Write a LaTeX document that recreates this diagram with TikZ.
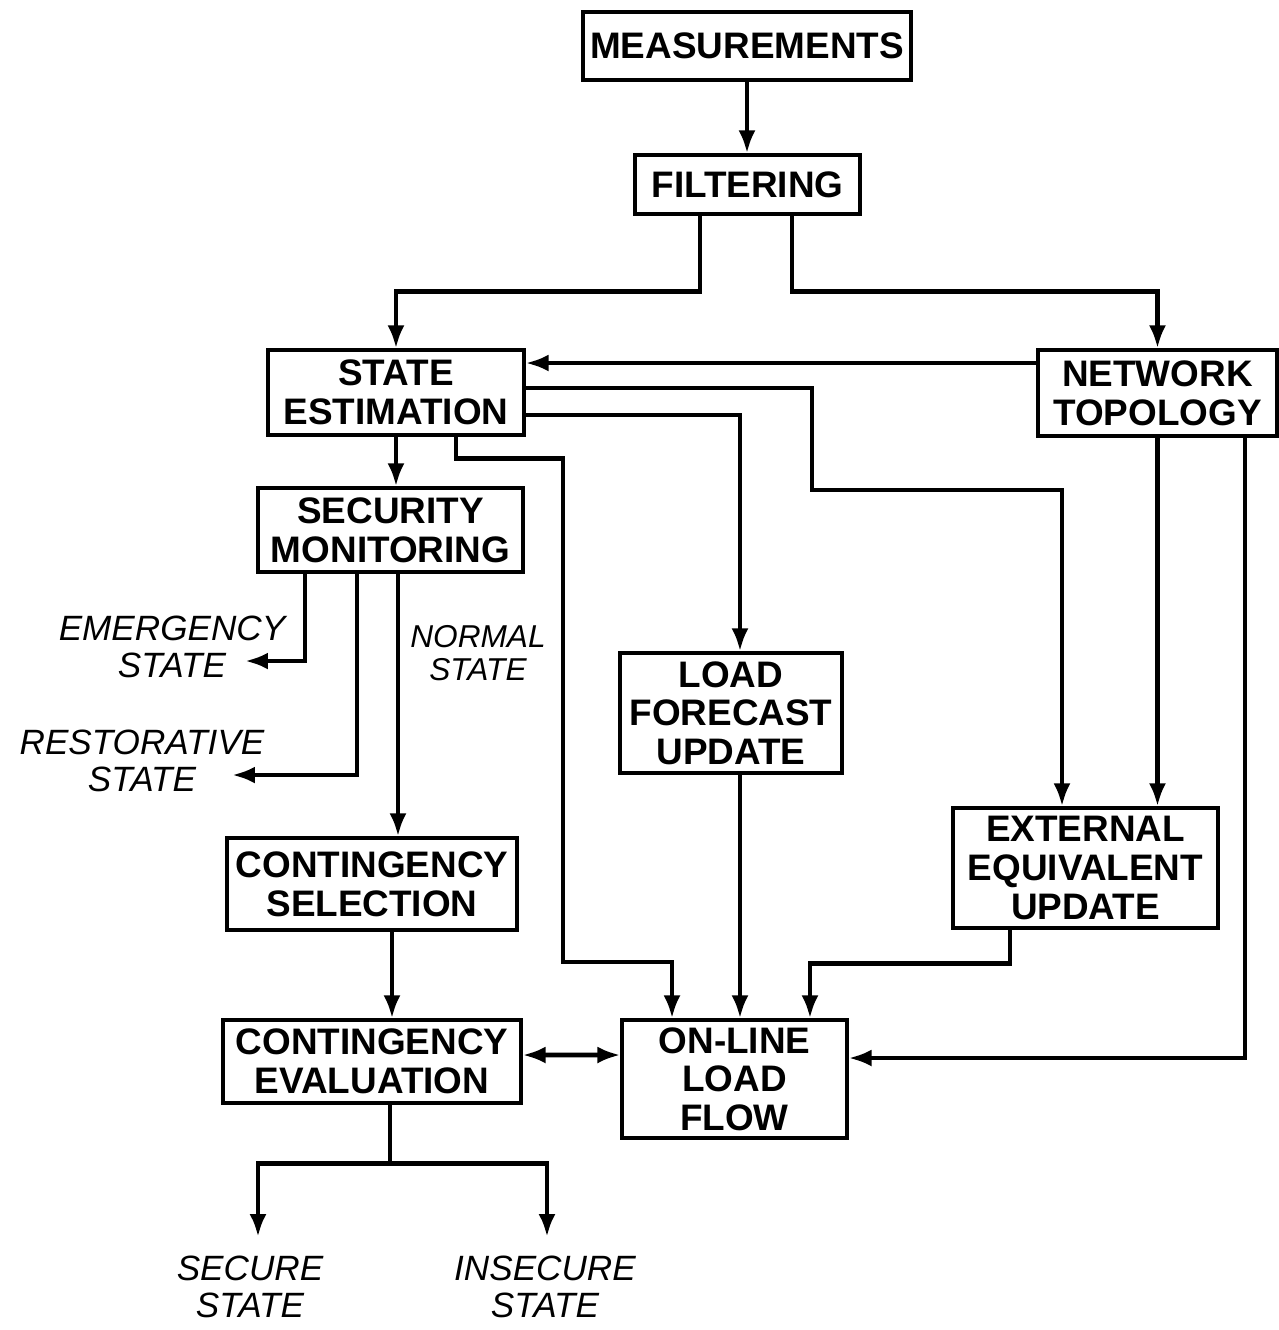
\documentclass[tikz,border=0pt]{standalone}
\usepackage{fontspec}
\setmainfont{Liberation Sans}
\usetikzlibrary{arrows.meta}
\begin{document}
\begin{tikzpicture}[x=0.02cm,y=-0.02cm,
  box/.style={draw,line width=1.8pt,inner sep=0pt,align=center,
    font=\fontsize{21}{22}\selectfont\bfseries},
  lab/.style={align=center,inner sep=0pt,font=\fontsize{20}{21}\selectfont\itshape},
  conn/.style={line width=2.6pt},
  tip/.style={},
  arr/.style={conn,-{Latex[length=0.46cm,width=0.34cm]}},
  arrb/.style={conn,{Latex[length=0.46cm,width=0.34cm]}-{Latex[length=0.46cm,width=0.34cm]}}]
\useasboundingbox (0,0) rectangle (1279,1330);
% boxes
\node[box,minimum width=6.56cm,minimum height=1.36cm] (meas) at (747,46) {MEASUREMENTS};
\node[box,minimum width=4.5cm,minimum height=1.18cm] (filt) at (747.5,184.5) {FILTERING};
\node[box,minimum width=5.12cm,minimum height=1.7cm] (se) at (396,392.5) {STATE\\ESTIMATION};
\node[box,minimum width=4.78cm,minimum height=1.72cm] (nt) at (1157.5,393) {NETWORK\\TOPOLOGY};
\node[box,minimum width=5.3cm,minimum height=1.68cm] (sm) at (390.5,530) {SECURITY\\MONITORING};
\node[box,minimum width=4.44cm,minimum height=2.4cm] (lf) at (731,713) {LOAD\\FORECAST\\UPDATE};
\node[box,minimum width=5.3cm,minimum height=2.4cm] (ee) at (1085.5,868) {EXTERNAL\\EQUIVALENT\\UPDATE};
\node[box,minimum width=5.8cm,minimum height=1.84cm] (cs) at (372,884) {CONTINGENCY\\SELECTION};
\node[box,minimum width=5.96cm,minimum height=1.66cm] (ce) at (372,1061.5) {CONTINGENCY\\EVALUATION};
\node[box,minimum width=4.5cm,minimum height=2.36cm] (ol) at (734.5,1079) {ON-LINE\\LOAD\\FLOW};
% labels
\node[lab] (emlab) at (172,647) {EMERGENCY\\STATE};
\node[lab] (rslab) at (142,761) {RESTORATIVE\\STATE};
\node[lab,font=\fontsize{18}{19}\selectfont\itshape] (nolab) at (478,653) {NORMAL\\STATE};
\node[lab] (seclab) at (250,1287) {SECURE\\STATE};
\node[lab] (inslab) at (545,1287) {INSECURE\\STATE};
\coordinate (em) at (245,661);
\coordinate (rs) at (232,775);
\coordinate (secarr) at (258,1237);
\coordinate (insarr) at (547,1237);
% connectors
\draw[arr] (meas.south) -- (meas.south |- filt.north);
\draw[arr] ([xshift=-0.95cm]filt.south) -- ++(0,76) -| (se.north);
\draw[arr] ([xshift=0.89cm]filt.south) -- ++(0,76) -| (nt.north);
\draw[arr] ([yshift=0.6cm]nt.west) coordinate (p1) -- (se.east |- p1);
\draw[arr] ([yshift=0.09cm]se.east) -| (812,490) -| ([xshift=-0.47cm]ee.north);
\draw[arr] ([yshift=-0.45cm]se.east) -| ([xshift=0.18cm]lf.north);
\draw[arr] ([xshift=1.2cm]se.south) -- ++(0,22) -| (563,962) -| ([xshift=-1.25cm]ol.north);
\draw[arr] (se.south) -- (se.south |- sm.north);
\draw[arr] (nt.south) -- (nt.south |- ee.north);
\draw[arr] ([xshift=1.75cm]nt.south) |- ([yshift=0.42cm]ol.east);
\draw[arr] ([xshift=-1.71cm]sm.south) |- (em);
\draw[arr] ([xshift=-0.67cm]sm.south) |- (rs);
\draw[arr] ([xshift=0.15cm]sm.south) coordinate (p2) -- (p2 |- cs.north);
\draw[arr] ([xshift=0.4cm]cs.south) coordinate (p3) -- (p3 |- ce.north);
\draw[arr] ([xshift=0.18cm]lf.south) coordinate (p4) -- (p4 |- ol.north);
\draw[arr] ([xshift=-1.51cm]ee.south) -- ++(0,34) -| ([xshift=1.51cm]ol.north);
\draw[arrb] ([yshift=0.13cm]ce.east) -- ([yshift=0.48cm]ol.west);
\draw[conn] ([xshift=0.36cm]ce.south) -- ++(0,59) coordinate (br);
\draw[arr] (br) -| (secarr);
\draw[arr] (br) -| (insarr);
\end{tikzpicture}
\end{document}
